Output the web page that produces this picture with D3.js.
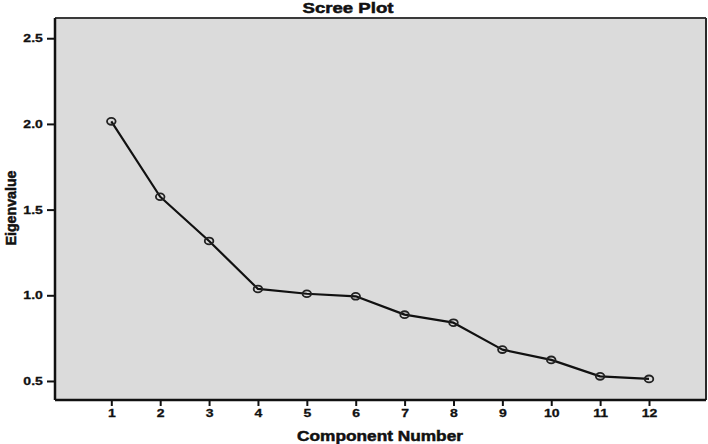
<!DOCTYPE html>
<html>
<head>
<meta charset="utf-8">
<script src="https://cdn.jsdelivr.net/npm/d3@7"></script>
<style>
  html, body { margin: 0; padding: 0; background: #ffffff; }
  svg { display: block; }
  text { font-family: "Liberation Sans", Arial, sans-serif; font-weight: bold; fill: #111; }
</style>
</head>
<body>
<div id="chart"></div>
<script>
// ---- data ----
const components = [1, 2, 3, 4, 5, 6, 7, 8, 9, 10, 11, 12];
const eigenvalues = [2.015, 1.575, 1.317, 1.037, 1.009, 0.994, 0.887, 0.840, 0.683, 0.623, 0.527, 0.512];
const yTicks = [0.5, 1.0, 1.5, 2.0, 2.5];
const xTicks = components;
const title = "Scree Plot";
const xLabel = "Component Number";
const yLabel = "Eigenvalue";

// ---- layout ----
const W = 708, H = 444;
const plot = { left: 55, right: 706, top: 18, bottom: 400 };
const stretch = 1.22; // horizontal stretch of the original text

const svg = d3.select("#chart").append("svg").attr("width", W).attr("height", H);

const x = d3.scaleLinear().domain([-0.152, 13.166]).range([plot.left, plot.right]);
const y = d3.scaleLinear().domain([0.389, 2.618]).range([plot.bottom, plot.top]);

// background
svg.append("rect")
  .attr("x", plot.left).attr("y", plot.top)
  .attr("width", plot.right - plot.left).attr("height", plot.bottom - plot.top)
  .attr("fill", "#dbdbdb");

// frame top and right
svg.append("line").attr("x1", plot.left).attr("x2", plot.right).attr("y1", plot.top).attr("y2", plot.top)
  .attr("stroke", "#3a3a3a").attr("stroke-width", 2.2);
svg.append("line").attr("x1", plot.right).attr("x2", plot.right).attr("y1", plot.top).attr("y2", plot.bottom)
  .attr("stroke", "#2a2a2a").attr("stroke-width", 2);

// axes
const yAxis = d3.axisLeft(y).tickValues(yTicks).tickFormat(d3.format(".1f")).tickSize(8).tickPadding(2);
const xAxis = d3.axisBottom(x).tickValues(xTicks).tickFormat(d3.format("d")).tickSize(6).tickPadding(3);

const gy = svg.append("g").attr("transform", `translate(${plot.left},0)`).call(yAxis);
const gx = svg.append("g").attr("transform", `translate(0,${plot.bottom})`).call(xAxis);

[gy, gx].forEach(g => {
  g.select(".domain").attr("stroke", "#111").attr("stroke-width", 2.5);
  g.selectAll(".tick line").attr("stroke", "#111").attr("stroke-width", 2);
  g.selectAll(".tick text")
    .attr("font-family", "Liberation Sans, Arial, sans-serif")
    .attr("font-weight", "bold").attr("font-size", 11.5).attr("fill", "#111")
    .attr("stroke", "#111").attr("stroke-width", 0.3);
});
gy.select(".domain").attr("d", `M0,${plot.top}V${plot.bottom}`);
gx.select(".domain").attr("d", `M${plot.left},0H${plot.right}`);
gy.selectAll(".tick text").attr("transform", `scale(${stretch},1)`);
gx.selectAll(".tick text").attr("transform", `scale(${stretch},1)`);

// line
const line = d3.line().x((d, i) => x(components[i])).y(d => y(d));
svg.append("path").datum(eigenvalues)
  .attr("d", line).attr("fill", "none").attr("stroke", "#111").attr("stroke-width", 2.2)
  .attr("stroke-linejoin", "round");

// markers
svg.append("g").selectAll("ellipse").data(eigenvalues).join("ellipse")
  .attr("cx", (d, i) => x(components[i])).attr("cy", d => y(d))
  .attr("rx", 4.3).attr("ry", 3.4)
  .attr("fill", "none").attr("stroke", "#222").attr("stroke-width", 1.8);

// title
svg.append("text").attr("x", 348).attr("y", 13).attr("text-anchor", "middle")
  .attr("font-size", 15).attr("textLength", 91).attr("lengthAdjust", "spacingAndGlyphs")
  .attr("stroke", "#111").attr("stroke-width", 0.5)
  .text(title);

// x label
svg.append("text").attr("x", 380).attr("y", 441).attr("text-anchor", "middle")
  .attr("font-size", 15).attr("textLength", 166).attr("lengthAdjust", "spacingAndGlyphs")
  .attr("stroke", "#111").attr("stroke-width", 0.5)
  .text(xLabel);

// y label
svg.append("text").attr("transform", "translate(16,208) rotate(-90)").attr("text-anchor", "middle")
  .attr("font-size", 15).attr("textLength", 75).attr("lengthAdjust", "spacingAndGlyphs")
  .attr("stroke", "#111").attr("stroke-width", 0.5)
  .text(yLabel);
</script>
</body>
</html>
